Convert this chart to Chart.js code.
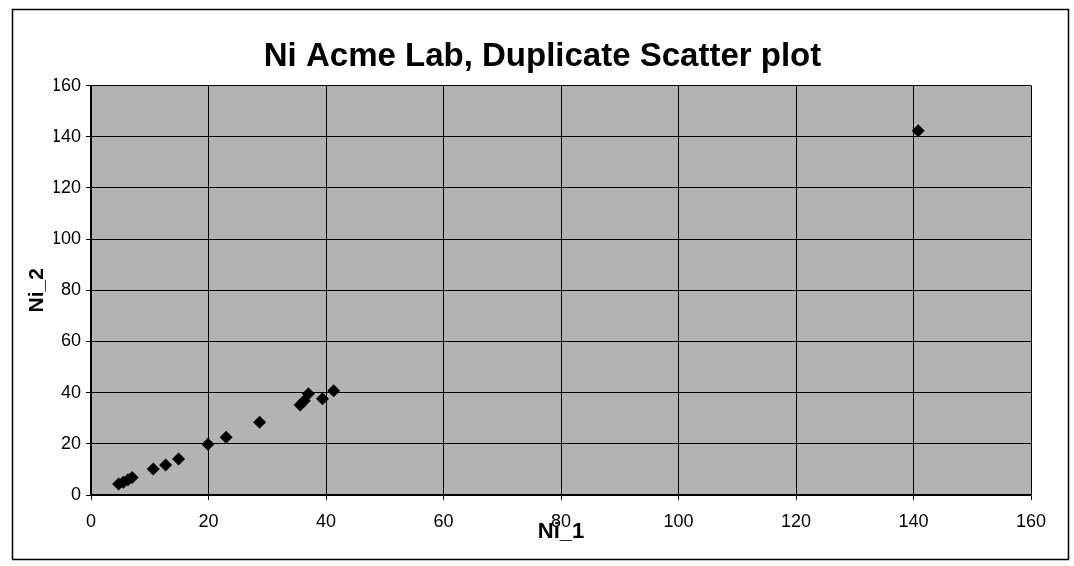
<!DOCTYPE html>
<html>
<head>
<meta charset="utf-8">
<script src="https://cdn.jsdelivr.net/npm/chart.js@4.4.1/dist/chart.umd.min.js"></script>
<style>
  html, body { margin: 0; padding: 0; background: #ffffff; }
  #wrap { width: 1074px; height: 566px; }
</style>
</head>
<body>
<div id="wrap"><canvas id="niChart" width="1074" height="566"></canvas></div>
<script>
// duplicate pairs
const ni1 = [4.7, 5.5, 6.3, 7.0, 10.6, 12.7, 14.9, 19.9, 23.0, 28.7, 35.6, 36.3, 37.0, 39.4, 41.3, 140.8];
const ni2 = [4.3, 5.0, 6.0, 6.8, 10.2, 11.7, 14.1, 19.8, 22.6, 28.4, 35.2, 36.8, 39.6, 37.6, 40.7, 142.4];
const axisMin = 0;
const axisMax = 160;
const axisStep = 20;

const points = ni1.map((x, i) => ({ x: x, y: ni2[i] }));

// outer frame + grey plot area, like the old Excel chart
const frameAndBack = {
    id: 'frameAndBack',
    beforeDraw(chart) {
        const ctx = chart.ctx;
        const a = chart.chartArea;
        ctx.save();
        ctx.fillStyle = '#ffffff';
        ctx.fillRect(0, 0, chart.width, chart.height);
        ctx.strokeStyle = '#000000';
        ctx.lineWidth = 1.5;
        ctx.strokeRect(12.5, 9.5, 1056, 550);
        ctx.fillStyle = '#b3b3b3';
        ctx.fillRect(a.left, a.top, a.right - a.left, a.bottom - a.top);
        ctx.restore();
    }
};

const ctx = document.getElementById('niChart');
new Chart(ctx.getContext('2d'), {
    type: 'scatter',
    data: {
        datasets: [{
            label: 'Ni',
            data: points,
            pointStyle: 'rectRot',
            pointRadius: 6.5,
            pointHoverRadius: 6.5,
            backgroundColor: '#000000',
            borderColor: '#000000',
            borderWidth: 0
        }]
    },
    options: {
        responsive: false,
        animation: false,
        layout: {
            // left padding keeps the title centred where the original has it
            padding: { left: 54, right: 43, top: 0, bottom: 0 }
        },
        plugins: {
            legend: { display: false },
            tooltip: { enabled: false },
            title: {
                display: true,
                text: 'Ni Acme Lab, Duplicate Scatter plot',
                color: '#000000',
                font: { family: 'Liberation Sans, Arial, sans-serif', size: 33, weight: 'bold' },
                padding: { top: 37, bottom: 9 }
            }
        },
        scales: {
            x: {
                type: 'linear',
                min: axisMin,
                max: axisMax,
                afterFit: (scale) => { scale.height = 71; },
                ticks: {
                    stepSize: axisStep,
                    color: '#000000',
                    padding: 11,
                    maxRotation: 0,
                    font: { family: 'Liberation Sans, Arial, sans-serif', size: 18 }
                },
                grid: { color: '#000000', lineWidth: 1, tickLength: 5 },
                border: { color: '#000000', width: 1.5 },
                title: {
                    display: true,
                    text: 'Ni_1',
                    color: '#000000',
                    font: { family: 'Liberation Sans, Arial, sans-serif', size: 22, weight: 'bold' },
                    padding: { top: 0, bottom: 21 }
                }
            },
            y: {
                type: 'linear',
                min: axisMin,
                max: axisMax,
                afterFit: (scale) => { scale.width = 37; },
                ticks: {
                    stepSize: axisStep,
                    color: '#000000',
                    padding: 5,
                    font: { family: 'Liberation Sans, Arial, sans-serif', size: 18 }
                },
                grid: { color: '#000000', lineWidth: 1, tickLength: 5 },
                border: { color: '#000000', width: 1.5 },
                title: {
                    display: true,
                    text: 'Ni_2',
                    color: '#000000',
                    font: { family: 'Liberation Sans, Arial, sans-serif', size: 21, weight: 'bold' },
                    padding: { top: -29, bottom: 0 }
                }
            }
        }
    },
    plugins: [frameAndBack]
});
</script>
</body>
</html>
